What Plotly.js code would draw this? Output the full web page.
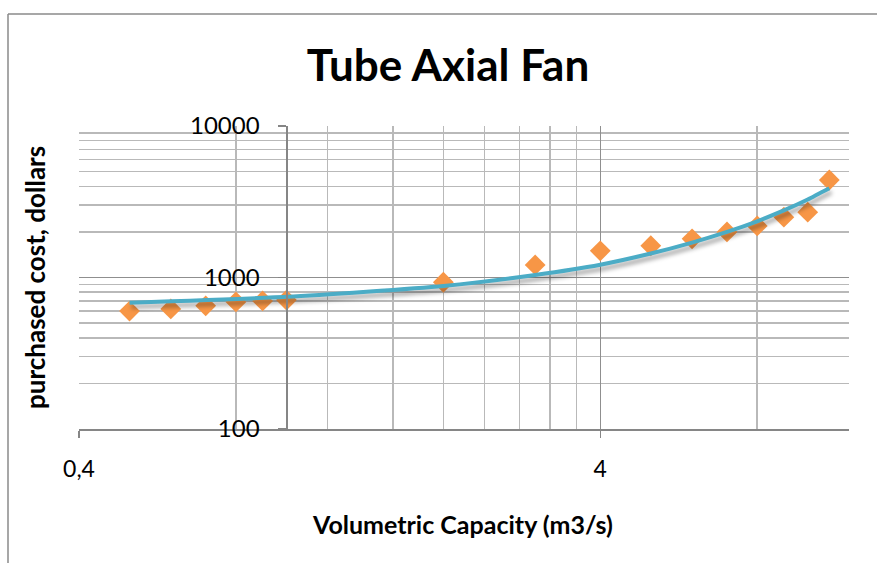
<!DOCTYPE html>
<html>
<head>
<meta charset="utf-8">
<script src="https://cdn.plot.ly/plotly-3.0.1.min.js"></script>
<style>
  html, body { margin: 0; padding: 0; background: #fff; }
  #chart { width: 877px; height: 563px; }
  .scatterlayer .trace:nth-child(2) path.js-line { filter: drop-shadow(2px 4px 2px rgba(0,0,0,0.35)); }
</style>
</head>
<body>
<div id="chart"></div>
<script>
// Data
const capacity = [0.5, 0.6, 0.7, 0.8, 0.9, 1, 2, 3, 4, 5, 6, 7, 8, 9, 10, 11];
const cost = [600, 620, 650, 690, 700, 710, 930, 1210, 1500, 1620, 1800, 2000, 2190, 2500, 2700, 4400];

// Exponential trendline values
const trendX = [0.5, 1, 2, 3, 4, 5, 6, 7, 8, 9, 10, 11];
const trendY = [680, 745, 880, 1040, 1215, 1440, 1700, 2000, 2350, 2770, 3270, 3880];

// Axis ticks
const xTickVals = [0.4, 4];
const xTickText = ['0,4', '4'];
const xMinorVals = [0.8, 1.2, 1.6, 2.0, 2.4, 2.8, 3.2, 3.6, 8, 12];
const yTickVals = [100, 1000, 10000];
const yTickText = ['100', '1000', '10000'];
const yMinorVals = [200, 300, 400, 500, 600, 700, 800, 900, 2000, 3000, 4000, 5000, 6000, 7000, 8000, 9000];

const FONT = 'Lato, "Open Sans", sans-serif';

const traces = [
  {
    x: capacity, y: cost, type: 'scatter', mode: 'markers',
    marker: { symbol: 'diamond', size: 16, color: '#F79646', line: { width: 0 } },
    hoverinfo: 'x+y'
  },
  {
    x: trendX, y: trendY, type: 'scatter', mode: 'lines',
    line: { color: '#4BACC6', width: 4, shape: 'spline', smoothing: 0.6 },
    hoverinfo: 'skip'
  }
];

const W = 877, H = 563;
const L = 79, R = 28, T = 126, B = 134;
const pw = W - L - R, ph = H - T - B;
const px = v => (v - L) / pw;
const py = v => (H - B - v) / ph;

const layout = {
  width: W, height: H,
  margin: { l: L, r: R, t: T, b: B, pad: 0 },
  paper_bgcolor: '#ffffff',
  plot_bgcolor: '#ffffff',
  showlegend: false,
  separators: ',.',
  font: { family: FONT, color: '#000000' },
  title: {
    text: '<b>Tube Axial Fan</b>',
    font: { family: FONT, size: 44, color: '#000000' },
    x: 448 / W, xanchor: 'center', xref: 'container',
    y: 1 - 66 / H, yanchor: 'middle', yref: 'container'
  },
  xaxis: {
    type: 'log',
    range: [Math.log10(0.4), Math.log10(12)],
    tickmode: 'array', tickvals: xTickVals, ticktext: xTickText,
    ticks: 'outside', ticklen: 7, tickwidth: 1.5, tickcolor: '#868686',
    ticklabelstandoff: 12,
    tickfont: { family: FONT, size: 23, color: '#000' },
    showline: true, linecolor: '#868686', linewidth: 1.5,
    showgrid: true, gridcolor: '#8f8f8f', gridwidth: 1.5,
    minor: { tickmode: 'array', tickvals: xMinorVals, showgrid: true, gridcolor: '#b9b9b9', gridwidth: 1.5, ticks: '' },
    zeroline: false, mirror: false, fixedrange: true
  },
  yaxis: {
    type: 'log',
    range: [2, 4],
    anchor: 'free', position: (286.4 - L) / pw,
    tickmode: 'array', tickvals: yTickVals, ticktext: yTickText,
    ticks: 'outside', ticklen: 8, tickwidth: 1.5, tickcolor: '#868686',
    ticklabelstandoff: 14,
    tickfont: { family: FONT, size: 24, color: '#000' },
    showline: true, linecolor: '#868686', linewidth: 1.5,
    showgrid: true, gridcolor: '#8f8f8f', gridwidth: 1.5,
    minor: { tickmode: 'array', tickvals: yMinorVals, showgrid: true, gridcolor: '#b9b9b9', gridwidth: 1.5, ticks: '' },
    zeroline: false, fixedrange: true
  },
  annotations: [
    {
      text: '<b>Volumetric Capacity (m3/s)</b>',
      xref: 'paper', yref: 'paper', x: px(462), y: py(524),
      xanchor: 'center', yanchor: 'middle', showarrow: false,
      font: { family: FONT, size: 25, color: '#000' }
    },
    {
      text: '<b>purchased cost, dollars</b>',
      xref: 'paper', yref: 'paper', x: px(35), y: py(278),
      xanchor: 'center', yanchor: 'middle', showarrow: false, textangle: -90,
      font: { family: FONT, size: 26, color: '#000' }
    }
  ],
  shapes: [
    {
      type: 'line', xref: 'paper', yref: 'paper',
      x0: px(8), x1: px(8), y0: py(14), y1: py(600),
      line: { color: '#8a8a8a', width: 1.5 }, layer: 'above'
    },
    {
      type: 'line', xref: 'paper', yref: 'paper',
      x0: px(8), x1: px(900), y0: py(14), y1: py(14),
      line: { color: '#8a8a8a', width: 1.5 }, layer: 'above'
    }
  ]
};

Plotly.newPlot('chart', traces, layout, { displayModeBar: false, staticPlot: true });
</script>
</body>
</html>
